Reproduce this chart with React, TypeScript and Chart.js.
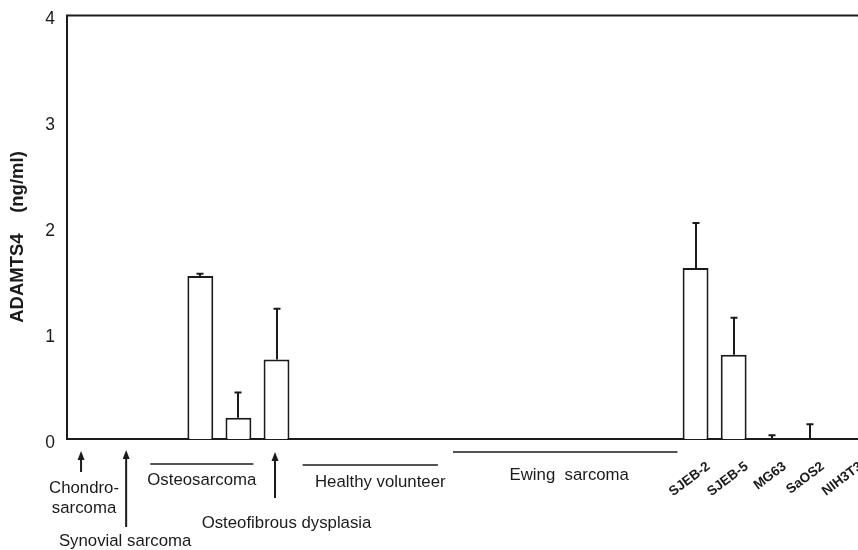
import React, { useEffect, useRef } from 'react';
import { Chart, registerables } from 'chart.js';

Chart.register(...registerables);

// ---- data ----
const categories = [
  'Chondrosarcoma',
  'Synovial sarcoma',
  'Osteosarcoma 1',
  'Osteosarcoma 2',
  'Osteosarcoma 3',
  'Osteofibrous dysplasia',
  'Healthy volunteer 1',
  'Healthy volunteer 2',
  'Healthy volunteer 3',
  'Healthy volunteer 4',
  'Ewing sarcoma 1',
  'Ewing sarcoma 2',
  'Ewing sarcoma 3',
  'Ewing sarcoma 4',
  'Ewing sarcoma 5',
  'Ewing sarcoma 6',
  'SJEB-2',
  'SJEB-5',
  'MG63',
  'SaOS2',
  'NIH3T3',
];
const values = [0, 0, 0, 1.54, 0.2, 0.75, 0, 0, 0, 0, 0, 0, 0, 0, 0, 0, 1.615, 0.795, 0, 0, 0];
const errors = [0, 0, 0, 0.02, 0.24, 0.48, 0, 0, 0, 0, 0, 0, 0, 0, 0, 0, 0.425, 0.35, 0.035, 0.14, 0];
const yTicks = [0, 1, 2, 3, 4];
const cellLineIndices = [16, 17, 18, 19, 20];
const underlinedGroups = [
  { label: 'Osteosarcoma', from: 2, to: 4 },
  { label: 'Healthy volunteer', from: 6, to: 9 },
  { label: 'Ewing  sarcoma', from: 10, to: 15 },
];
const arrowGroups = [
  { label: ['Chondro-', 'sarcoma'], at: 0 },
  { label: ['Synovial sarcoma'], at: 1 },
  { label: ['Osteofibrous dysplasia'], at: 5 },
];
const yTitle = 'ADAMTS4    (ng/ml)';

// ---- annotation layout (pixels, relative to category centres) ----
const underlineLayout = [
  { lineY: 464, textY: 480, x1: -12, x2: 15, dx: 0 },
  { lineY: 465, textY: 482, x1: -12, x2: 9, dx: 10 },
  { lineY: 452, textY: 475, x1: -14, x2: 20, dx: 4 },
];
const arrowLayout = [
  { ax: -5, head: 451, tail: 472, tx: -2, ty: [488, 508] },
  { ax: 2, head: 450, tail: 527, tx: 1, ty: [541] },
  { ax: -1.5, head: 452, tail: 498, tx: 10, ty: [523] },
];

const INK = '#1b1b1b';
const FONT = "'Liberation Sans', Arial, sans-serif";

export default function App() {
  const ref = useRef<HTMLCanvasElement>(null);

  useEffect(() => {
    const canvas = ref.current;
    if (!canvas) return;

    const drawArrow = (ctx: CanvasRenderingContext2D, x: number, head: number, tail: number) => {
      ctx.beginPath();
      ctx.moveTo(x, tail);
      ctx.lineTo(x, head + 6);
      ctx.stroke();
      ctx.beginPath();
      ctx.moveTo(x, head);
      ctx.lineTo(x - 3.5, head + 9);
      ctx.lineTo(x + 3.5, head + 9);
      ctx.closePath();
      ctx.fill();
    };

    const annotations = {
      id: 'annotations',
      afterDatasetsDraw(chart: any) {
        const ctx: CanvasRenderingContext2D = chart.ctx;
        const xs = chart.scales.x;
        const ys = chart.scales.y;
        ctx.save();
        ctx.strokeStyle = INK;
        ctx.lineWidth = 2;
        values.forEach((v, i) => {
          const e = errors[i];
          if (!e) return;
          const cx = Math.round(xs.getPixelForValue(i));
          const y1 = ys.getPixelForValue(v);
          const y2 = ys.getPixelForValue(v + e);
          ctx.beginPath();
          ctx.moveTo(cx, y1);
          ctx.lineTo(cx, y2);
          ctx.moveTo(cx - 3.5, y2);
          ctx.lineTo(cx + 3.5, y2);
          ctx.stroke();
        });
        ctx.restore();
      },
      afterDraw(chart: any) {
        const ctx: CanvasRenderingContext2D = chart.ctx;
        const xs = chart.scales.x;
        const area = chart.chartArea;
        ctx.save();
        ctx.strokeStyle = INK;
        ctx.fillStyle = INK;

        // top frame line
        ctx.lineWidth = 2;
        ctx.beginPath();
        ctx.moveTo(area.left - 1, area.top);
        ctx.lineTo(area.right, area.top);
        ctx.stroke();

        // y title
        ctx.save();
        ctx.translate(18, 237);
        ctx.rotate(-Math.PI / 2);
        ctx.font = `bold 18.5px ${FONT}`;
        ctx.textAlign = 'center';
        ctx.textBaseline = 'middle';
        ctx.fillText(yTitle, 0, 0);
        ctx.restore();

        // underlined groups
        ctx.font = `16.8px ${FONT}`;
        ctx.textAlign = 'center';
        ctx.textBaseline = 'middle';
        underlinedGroups.forEach((g, k) => {
          const L = underlineLayout[k];
          const x1 = xs.getPixelForValue(g.from) + L.x1;
          const x2 = xs.getPixelForValue(g.to) + L.x2;
          ctx.lineWidth = 1.5;
          ctx.beginPath();
          ctx.moveTo(x1, L.lineY);
          ctx.lineTo(x2, L.lineY);
          ctx.stroke();
          ctx.fillText(g.label, (x1 + x2) / 2 + L.dx, L.textY);
        });

        // arrow groups
        arrowGroups.forEach((g, k) => {
          const L = arrowLayout[k];
          const c = xs.getPixelForValue(g.at);
          ctx.lineWidth = 2;
          drawArrow(ctx, c + L.ax, L.head, L.tail);
          g.label.forEach((line, j) => {
            ctx.fillText(line, c + L.tx, L.ty[j]);
          });
        });

        // cell line labels (rotated, bold)
        ctx.font = `bold 13.5px ${FONT}`;
        ctx.textAlign = 'right';
        ctx.textBaseline = 'middle';
        cellLineIndices.forEach((i) => {
          const c = xs.getPixelForValue(i);
          ctx.save();
          ctx.translate(c + 13, 465);
          ctx.rotate((-37 * Math.PI) / 180);
          ctx.fillText(categories[i], 0, 0);
          ctx.restore();
        });

        ctx.restore();
      },
    };

    const chart = new Chart(canvas, {
      type: 'bar',
      data: {
        labels: categories,
        datasets: [
          {
            data: values,
            backgroundColor: '#ffffff',
            borderColor: INK,
            borderWidth: 2,
            borderSkipped: 'bottom',
            barPercentage: 0.68,
            categoryPercentage: 1,
          },
        ],
      },
      options: {
        responsive: false,
        animation: false,
        devicePixelRatio: 1,
        layout: { padding: { top: 15.5, left: 0, right: 0, bottom: 0 } },
        plugins: {
          legend: { display: false },
          tooltip: { enabled: false },
        },
        scales: {
          x: {
            grid: { display: false, drawTicks: false },
            border: { display: true, color: INK, width: 2 },
            ticks: { display: false },
            afterFit: (scale: any) => {
              scale.height = 111;
              scale.paddingLeft = 0;
              scale.paddingRight = 0;
            },
          },
          y: {
            min: 0,
            max: 4,
            grid: { display: false, drawTicks: false },
            border: { display: true, color: INK, width: 2 },
            afterBuildTicks: (scale: any) => {
              scale.ticks = yTicks.map((v) => ({ value: v }));
            },
            ticks: {
              color: INK,
              padding: 12,
              labelOffset: 4,
              font: { family: FONT, size: 17.5 },
              callback: (v: any) => String(v),
            },
            afterFit: (scale: any) => {
              scale.width = 67;
              scale.paddingTop = 0;
              scale.paddingBottom = 0;
            },
          },
        },
      },
      plugins: [annotations],
    });

    return () => chart.destroy();
  }, []);

  return (
    <div
      style={{
        position: 'absolute',
        left: 0,
        top: 0,
        width: 858,
        height: 550,
        overflow: 'hidden',
        background: '#fff',
      }}
    >
      <canvas ref={ref} width={867} height={550} style={{ display: 'block', width: 867, height: 550 }} />
    </div>
  );
}
